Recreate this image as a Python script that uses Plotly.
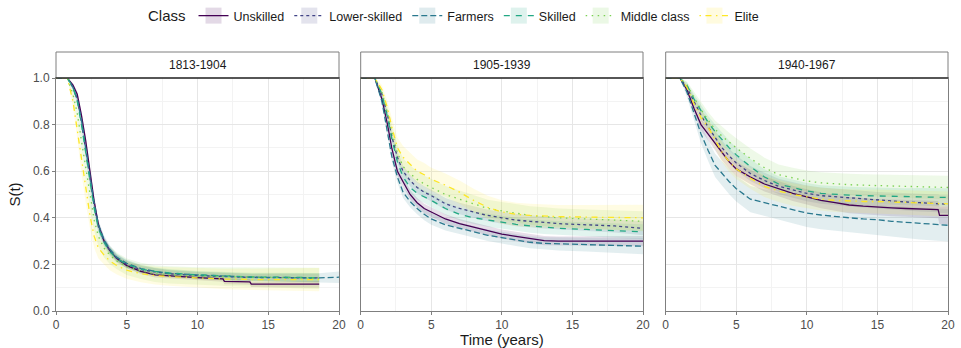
import plotly.graph_objects as go

# ---------------- data ----------------
CLASSES = ["Unskilled", "Lower-skilled", "Farmers", "Skilled", "Middle class", "Elite"]
COLORS = ["#440154", "#414487", "#2A788E", "#22A884", "#7AD151", "#FDE725"]
DASHES = ["solid", "3px,3px", "6px,3px", "6px,6px", "1.5px,4.5px", "1.5px,4.5px,6px,4.5px"]
PERIODS = ["1813-1904", "1905-1939", "1940-1967"]
X_TICKS = [0, 5, 10, 15, 20]
Y_TICKS = [0.0, 0.2, 0.4, 0.6, 0.8, 1.0]
Y_TICK_LABELS = ["0.0", "0.2", "0.4", "0.6", "0.8", "1.0"]

# Period 1813-1904
P1_T = [0, 0.8, 1.2, 1.5, 1.8, 2.1, 2.4, 2.7, 3.0, 3.4, 3.8, 4.3, 5, 6, 7, 8, 10, 11.8, 11.9, 13.7, 13.8, 16, 18.6, 20]
P1_UNSKILLED = [1, 1, 0.97, 0.93, 0.84, 0.73, 0.60, 0.47, 0.37, 0.30, 0.26, 0.225, 0.195, 0.17, 0.155, 0.15, 0.143, 0.138, 0.127, 0.125, 0.115, 0.115, 0.115, None]
P1_LOWER = [1, 1, 0.96, 0.91, 0.81, 0.69, 0.56, 0.45, 0.36, 0.30, 0.26, 0.225, 0.20, 0.178, 0.168, 0.16, 0.152, 0.148, 0.147, 0.145, 0.144, 0.143, 0.142, None]
P1_FARMERS = [1, 1, 0.96, 0.91, 0.82, 0.70, 0.58, 0.46, 0.37, 0.305, 0.265, 0.23, 0.205, 0.182, 0.17, 0.162, 0.155, 0.15, 0.149, 0.146, 0.145, 0.144, 0.142, 0.145]
P1_SKILLED = [1, 1, 0.96, 0.90, 0.80, 0.68, 0.55, 0.44, 0.355, 0.295, 0.255, 0.225, 0.20, 0.18, 0.17, 0.163, 0.155, 0.15, 0.149, 0.147, 0.146, 0.145, 0.143, None]
P1_MIDDLE = [1, 1, 0.93, 0.85, 0.73, 0.61, 0.49, 0.39, 0.32, 0.27, 0.24, 0.215, 0.19, 0.172, 0.16, 0.155, 0.15, 0.148, 0.147, 0.145, 0.144, 0.142, 0.14, None]
P1_ELITE = [1, 1, 0.90, 0.78, 0.64, 0.52, 0.41, 0.32, 0.27, 0.24, 0.215, 0.195, 0.175, 0.16, 0.152, 0.148, 0.142, 0.138, 0.137, 0.136, 0.135, 0.135, 0.135, None]
P1_UNSKILLED_CI = [0, 0, 0.008, 0.012, 0.015, 0.016, 0.016, 0.016, 0.015, 0.014, 0.013, 0.012, 0.011, 0.011, 0.011, 0.011, 0.011, 0.012, 0.012, 0.012, 0.012, 0.013, 0.014, 0]
P1_LOWER_CI = [0, 0, 0.01, 0.015, 0.02, 0.022, 0.022, 0.022, 0.02, 0.018, 0.017, 0.016, 0.015, 0.015, 0.015, 0.015, 0.015, 0.016, 0.016, 0.016, 0.016, 0.017, 0.018, 0]
P1_FARMERS_CI = [0, 0, 0.01, 0.015, 0.02, 0.022, 0.022, 0.022, 0.02, 0.018, 0.017, 0.016, 0.015, 0.015, 0.015, 0.015, 0.015, 0.016, 0.016, 0.016, 0.016, 0.018, 0.02, 0.025]
P1_SKILLED_CI = [0, 0, 0.01, 0.016, 0.022, 0.024, 0.024, 0.024, 0.022, 0.02, 0.019, 0.018, 0.017, 0.017, 0.017, 0.017, 0.017, 0.018, 0.018, 0.018, 0.018, 0.019, 0.02, 0]
P1_MIDDLE_CI = [0, 0, 0.02, 0.03, 0.04, 0.045, 0.045, 0.045, 0.042, 0.04, 0.038, 0.036, 0.035, 0.035, 0.036, 0.037, 0.038, 0.04, 0.04, 0.042, 0.042, 0.044, 0.046, 0]
P1_ELITE_CI = [0, 0, 0.025, 0.04, 0.05, 0.055, 0.055, 0.05, 0.045, 0.042, 0.04, 0.038, 0.037, 0.037, 0.038, 0.04, 0.042, 0.044, 0.044, 0.046, 0.046, 0.048, 0.05, 0]

# Period 1905-1939
P2_T = [0, 1.0, 1.5, 1.9, 2.2, 2.6, 3.0, 3.5, 4.0, 4.5, 5, 6, 7, 8, 9, 10, 11, 12, 13, 14, 16, 18, 20]
P2_UNSKILLED = [1, 1, 0.91, 0.80, 0.70, 0.60, 0.555, 0.50, 0.465, 0.44, 0.425, 0.395, 0.375, 0.36, 0.345, 0.33, 0.32, 0.31, 0.302, 0.30, 0.30, 0.30, 0.30]
P2_LOWER = [1, 1, 0.93, 0.84, 0.75, 0.66, 0.60, 0.56, 0.53, 0.51, 0.495, 0.46, 0.44, 0.425, 0.41, 0.40, 0.39, 0.385, 0.38, 0.375, 0.37, 0.365, 0.355]
P2_FARMERS = [1, 1, 0.90, 0.76, 0.665, 0.575, 0.51, 0.47, 0.44, 0.415, 0.395, 0.37, 0.355, 0.34, 0.325, 0.315, 0.305, 0.295, 0.29, 0.288, 0.285, 0.28, 0.278]
P2_SKILLED = [1, 1, 0.93, 0.83, 0.74, 0.64, 0.575, 0.53, 0.505, 0.49, 0.475, 0.44, 0.415, 0.40, 0.39, 0.38, 0.372, 0.365, 0.36, 0.355, 0.35, 0.345, 0.34]
P2_MIDDLE = [1, 1, 0.94, 0.85, 0.77, 0.68, 0.62, 0.59, 0.565, 0.545, 0.53, 0.50, 0.48, 0.46, 0.44, 0.43, 0.42, 0.41, 0.405, 0.40, 0.395, 0.39, 0.385]
P2_ELITE = [1, 1, 0.95, 0.87, 0.79, 0.70, 0.66, 0.63, 0.60, 0.585, 0.565, 0.54, 0.51, 0.475, 0.445, 0.425, 0.415, 0.41, 0.407, 0.405, 0.403, 0.40, 0.40]
P2_UNSKILLED_CI = [0, 0, 0.01, 0.015, 0.018, 0.02, 0.02, 0.02, 0.02, 0.02, 0.02, 0.02, 0.02, 0.02, 0.02, 0.02, 0.02, 0.02, 0.02, 0.02, 0.02, 0.021, 0.022]
P2_LOWER_CI = [0, 0, 0.012, 0.018, 0.022, 0.025, 0.025, 0.025, 0.025, 0.025, 0.025, 0.025, 0.025, 0.025, 0.025, 0.025, 0.026, 0.026, 0.026, 0.026, 0.027, 0.028, 0.03]
P2_FARMERS_CI = [0, 0, 0.012, 0.018, 0.022, 0.025, 0.025, 0.025, 0.025, 0.025, 0.025, 0.025, 0.025, 0.025, 0.025, 0.025, 0.026, 0.026, 0.027, 0.028, 0.03, 0.032, 0.034]
P2_SKILLED_CI = [0, 0, 0.013, 0.02, 0.024, 0.027, 0.027, 0.027, 0.027, 0.027, 0.027, 0.027, 0.027, 0.027, 0.028, 0.028, 0.028, 0.029, 0.029, 0.03, 0.03, 0.031, 0.032]
P2_MIDDLE_CI = [0, 0, 0.015, 0.025, 0.03, 0.035, 0.035, 0.035, 0.036, 0.036, 0.036, 0.037, 0.037, 0.038, 0.038, 0.038, 0.039, 0.04, 0.04, 0.04, 0.041, 0.042, 0.043]
P2_ELITE_CI = [0, 0, 0.02, 0.03, 0.04, 0.045, 0.048, 0.05, 0.05, 0.05, 0.05, 0.05, 0.05, 0.05, 0.05, 0.05, 0.05, 0.05, 0.05, 0.05, 0.052, 0.054, 0.056]

# Period 1940-1967
P3_T = [0, 1.0, 1.5, 2.0, 2.5, 3.0, 3.5, 4.0, 4.5, 5, 6, 7, 8, 9, 10, 11, 12, 13, 14, 15, 16, 17, 18, 19.3, 19.4, 20]
P3_UNSKILLED = [1, 1, 0.95, 0.87, 0.80, 0.76, 0.72, 0.675, 0.64, 0.61, 0.575, 0.545, 0.525, 0.505, 0.49, 0.475, 0.465, 0.455, 0.45, 0.445, 0.443, 0.44, 0.437, 0.435, 0.41, 0.41]
P3_LOWER = [1, 1, 0.96, 0.90, 0.84, 0.79, 0.745, 0.70, 0.665, 0.635, 0.59, 0.56, 0.535, 0.52, 0.505, 0.495, 0.49, 0.485, 0.48, 0.475, 0.472, 0.468, 0.465, 0.462, 0.46, 0.458]
P3_FARMERS = [1, 1, 0.94, 0.85, 0.76, 0.69, 0.625, 0.59, 0.555, 0.525, 0.48, 0.465, 0.45, 0.435, 0.42, 0.412, 0.405, 0.40, 0.395, 0.392, 0.385, 0.38, 0.375, 0.37, 0.37, 0.368]
P3_SKILLED = [1, 1, 0.97, 0.91, 0.86, 0.81, 0.77, 0.735, 0.70, 0.67, 0.62, 0.575, 0.545, 0.53, 0.515, 0.505, 0.50, 0.497, 0.495, 0.493, 0.492, 0.49, 0.49, 0.488, 0.488, 0.488]
P3_MIDDLE = [1, 1, 0.97, 0.915, 0.865, 0.82, 0.78, 0.75, 0.725, 0.70, 0.655, 0.615, 0.585, 0.57, 0.558, 0.55, 0.545, 0.542, 0.54, 0.538, 0.536, 0.535, 0.533, 0.53, 0.53, 0.53]
P3_ELITE = [1, 1, 0.96, 0.89, 0.83, 0.79, 0.735, 0.68, 0.64, 0.61, 0.57, 0.535, 0.515, 0.50, 0.49, 0.48, 0.475, 0.472, 0.47, 0.47, 0.468, 0.465, 0.463, 0.46, 0.46, 0.46]
P3_UNSKILLED_CI = [0, 0, 0.012, 0.02, 0.025, 0.028, 0.03, 0.03, 0.03, 0.031, 0.031, 0.032, 0.032, 0.033, 0.033, 0.034, 0.034, 0.035, 0.035, 0.035, 0.036, 0.036, 0.037, 0.037, 0.038, 0.038]
P3_LOWER_CI = [0, 0, 0.012, 0.02, 0.025, 0.028, 0.03, 0.031, 0.031, 0.032, 0.032, 0.033, 0.033, 0.034, 0.034, 0.035, 0.035, 0.036, 0.036, 0.036, 0.037, 0.037, 0.038, 0.038, 0.038, 0.039]
P3_FARMERS_CI = [0, 0, 0.02, 0.03, 0.04, 0.045, 0.05, 0.052, 0.054, 0.055, 0.056, 0.057, 0.058, 0.059, 0.06, 0.061, 0.062, 0.063, 0.064, 0.065, 0.066, 0.067, 0.068, 0.069, 0.07, 0.07]
P3_SKILLED_CI = [0, 0, 0.012, 0.02, 0.025, 0.028, 0.03, 0.031, 0.031, 0.032, 0.032, 0.033, 0.033, 0.034, 0.034, 0.035, 0.035, 0.036, 0.036, 0.036, 0.037, 0.037, 0.038, 0.038, 0.038, 0.039]
P3_MIDDLE_CI = [0, 0, 0.015, 0.025, 0.03, 0.035, 0.038, 0.04, 0.04, 0.041, 0.042, 0.043, 0.044, 0.045, 0.045, 0.046, 0.046, 0.047, 0.047, 0.048, 0.048, 0.049, 0.05, 0.05, 0.05, 0.05]
P3_ELITE_CI = [0, 0, 0.015, 0.025, 0.032, 0.036, 0.04, 0.042, 0.043, 0.044, 0.045, 0.046, 0.047, 0.048, 0.048, 0.049, 0.05, 0.05, 0.05, 0.051, 0.051, 0.052, 0.052, 0.053, 0.053, 0.053]

PANEL_TIMES = [P1_T, P2_T, P3_T]
PANEL_SURV = [
    [P1_UNSKILLED, P1_LOWER, P1_FARMERS, P1_SKILLED, P1_MIDDLE, P1_ELITE],
    [P2_UNSKILLED, P2_LOWER, P2_FARMERS, P2_SKILLED, P2_MIDDLE, P2_ELITE],
    [P3_UNSKILLED, P3_LOWER, P3_FARMERS, P3_SKILLED, P3_MIDDLE, P3_ELITE],
]
PANEL_CI = [
    [P1_UNSKILLED_CI, P1_LOWER_CI, P1_FARMERS_CI, P1_SKILLED_CI, P1_MIDDLE_CI, P1_ELITE_CI],
    [P2_UNSKILLED_CI, P2_LOWER_CI, P2_FARMERS_CI, P2_SKILLED_CI, P2_MIDDLE_CI, P2_ELITE_CI],
    [P3_UNSKILLED_CI, P3_LOWER_CI, P3_FARMERS_CI, P3_SKILLED_CI, P3_MIDDLE_CI, P3_ELITE_CI],
]

# ---------------- layout constants ----------------
W, H = 961, 348
FONT = "Liberation Sans, Arial, sans-serif"
X_DOMAINS = [[56 / W, 339 / W], [360.7 / W, 643 / W], [665.7 / W, 948 / W]]
Y_DOMAIN = [1 - 311 / H, 1 - 78 / H]
STRIP_TOP = 1 - 52 / H


def rgba(hex_color, a):
    h = hex_color.lstrip("#")
    r, g, b = int(h[0:2], 16), int(h[2:4], 16), int(h[4:6], 16)
    return f"rgba({r},{g},{b},{a})"


fig = go.Figure()

for p in range(3):
    xa = "x" if p == 0 else f"x{p + 1}"
    ya = "y" if p == 0 else f"y{p + 1}"
    t = PANEL_TIMES[p]
    # confidence bands first
    for c in range(6):
        s = PANEL_SURV[p][c]
        w = PANEL_CI[p][c]
        tt = [t[i] for i in range(len(t)) if s[i] is not None]
        up = [min(1.0, s[i] + w[i]) for i in range(len(t)) if s[i] is not None]
        lo = [max(0.0, s[i] - w[i]) for i in range(len(t)) if s[i] is not None]
        fig.add_trace(go.Scatter(
            x=tt + tt[::-1], y=up + lo[::-1], xaxis=xa, yaxis=ya,
            fill="toself", fillcolor=rgba(COLORS[c], 0.13),
            line=dict(width=0), mode="lines", hoverinfo="skip", showlegend=False,
        ))
    for c in range(6):
        s = PANEL_SURV[p][c]
        fig.add_trace(go.Scatter(
            x=t, y=s, xaxis=xa, yaxis=ya, mode="lines",
            line=dict(color=COLORS[c], dash=DASHES[c], width=1.3),
            name=CLASSES[c], legendgroup=CLASSES[c], showlegend=False,
        ))

# legend-only entries
for c in range(6):
    fig.add_trace(go.Scatter(
        x=[None], y=[None], mode="lines+markers", name=CLASSES[c], legendgroup=CLASSES[c],
        line=dict(color=COLORS[c], dash=DASHES[c], width=1.3),
        marker=dict(symbol="square", size=18, color=rgba(COLORS[c], 0.15), line=dict(width=0)),
        showlegend=True,
    ))

layout = dict(
    width=W, height=H,
    margin=dict(l=0, r=0, t=0, b=0),
    paper_bgcolor="white", plot_bgcolor="white",
    font=dict(family=FONT, color="#1A1A1A", size=12),
    legend=dict(
        orientation="h", x=455 / W, xanchor="center", y=1 - 16 / H, yanchor="middle",
        title=dict(text="Class", font=dict(size=15, color="#1A1A1A"), side="left"),
        font=dict(size=12.5, color="#1A1A1A"), itemwidth=30, bgcolor="rgba(0,0,0,0)",
        tracegroupgap=0,
    ),
    shapes=[], annotations=[],
)

for p in range(3):
    xk = "xaxis" if p == 0 else f"xaxis{p + 1}"
    yk = "yaxis" if p == 0 else f"yaxis{p + 1}"
    xa = "x" if p == 0 else f"x{p + 1}"
    ya = "y" if p == 0 else f"y{p + 1}"
    layout[xk] = dict(
        domain=X_DOMAINS[p], anchor=ya, range=[0, 20], tickvals=X_TICKS,
        ticks="outside", ticklen=3, tickcolor="#7F7F7F", tickwidth=1,
        showline=True, linecolor="#7F7F7F", linewidth=1, mirror=True,
        showgrid=True, gridcolor="#E6E6E6", gridwidth=1, zeroline=False,
        minor=dict(dtick=2.5, tick0=0, showgrid=True, gridcolor="#F3F3F3", gridwidth=1),
        tickfont=dict(size=12, color="#4D4D4D", family=FONT), automargin=False,
        fixedrange=True,
    )
    layout[yk] = dict(
        domain=Y_DOMAIN, anchor=xa, range=[0, 1], tickvals=Y_TICKS,
        ticktext=Y_TICK_LABELS,
        showline=True, linecolor="#7F7F7F", linewidth=1, mirror=True,
        showgrid=True, gridcolor="#E6E6E6", gridwidth=1, zeroline=False,
        minor=dict(dtick=0.1, tick0=0, showgrid=True, gridcolor="#F3F3F3", gridwidth=1),
        tickfont=dict(size=12, color="#4D4D4D", family=FONT), automargin=False,
        fixedrange=True,
    )
    if p == 0:
        layout[yk].update(ticks="outside", ticklen=3, tickcolor="#7F7F7F", showticklabels=True,
                          title=dict(text="S(t)", font=dict(size=15, color="#1A1A1A"), standoff=8))
    else:
        layout[yk].update(ticks="", showticklabels=False)
    if p == 1:
        layout[xk]["title"] = dict(text="Time (years)", font=dict(size=15, color="#1A1A1A"), standoff=4)

    # facet strip
    layout["shapes"].append(dict(
        type="rect", xref="paper", yref="paper",
        x0=X_DOMAINS[p][0], x1=X_DOMAINS[p][1], y0=Y_DOMAIN[1], y1=STRIP_TOP,
        fillcolor="white", line=dict(color="#7F7F7F", width=1), layer="above",
    ))
    layout["shapes"].append(dict(
        type="line", xref="paper", yref="paper",
        x0=X_DOMAINS[p][0], x1=X_DOMAINS[p][1], y0=Y_DOMAIN[1], y1=Y_DOMAIN[1],
        line=dict(color="#333333", width=1.3), layer="above",
    ))
    layout["annotations"].append(dict(
        text=PERIODS[p], xref="paper", yref="paper",
        x=(X_DOMAINS[p][0] + X_DOMAINS[p][1]) / 2, y=(Y_DOMAIN[1] + STRIP_TOP) / 2,
        xanchor="center", yanchor="middle", showarrow=False,
        font=dict(size=12, color="#1A1A1A", family=FONT),
    ))

fig.update_layout(**layout)
fig.write_html("out.html")
